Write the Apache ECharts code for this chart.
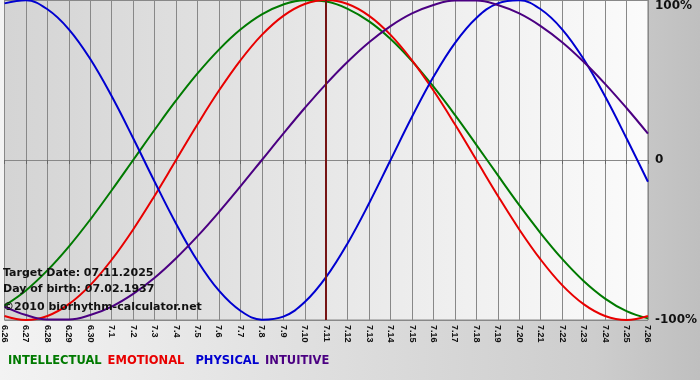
<!DOCTYPE html>
<html>
<head>
<meta charset="utf-8">
<script src="https://cdn.jsdelivr.net/npm/echarts@6/dist/echarts.min.js"></script>
<style>html,body{margin:0;padding:0;background:#fff}#c{width:700px;height:380px}</style>
</head>
<body>
<div id="c"></div>
<script>
const days = ['6.26','6.27','6.28','6.29','6.30','7.1','7.2','7.3','7.4','7.5','7.6','7.7','7.8','7.9','7.10','7.11','7.12','7.13','7.14','7.15','7.16','7.17','7.18','7.19','7.20','7.21','7.22','7.23','7.24','7.25','7.26'];
const intellectual = [-0.910,-0.815,-0.690,-0.541,-0.372,-0.189,0,0.189,0.372,0.541,0.690,0.815,0.910,0.972,0.999,0.990,0.945,0.866,0.756,0.618,0.458,0.282,0.095,-0.095,-0.282,-0.458,-0.618,-0.756,-0.866,-0.945,-0.990];
const emotional = [-0.975,-1,-0.975,-0.901,-0.782,-0.623,-0.434,-0.223,0,0.223,0.434,0.623,0.782,0.901,0.975,1,0.975,0.901,0.782,0.623,0.434,0.223,0,-0.223,-0.434,-0.623,-0.782,-0.901,-0.975,-1,-0.975];
const physical = [0.979,0.998,0.942,0.817,0.631,0.398,0.136,-0.136,-0.398,-0.631,-0.817,-0.942,-0.998,-0.979,-0.888,-0.731,-0.520,-0.270,0,0.270,0.520,0.731,0.888,0.979,0.998,0.942,0.817,0.631,0.398,0.136,-0.136];
const intuitive = [-0.916,-0.969,-0.997,-0.997,-0.969,-0.916,-0.837,-0.736,-0.614,-0.476,-0.325,-0.165,0,0.165,0.325,0.476,0.614,0.736,0.837,0.916,0.969,0.997,0.997,0.969,0.916,0.837,0.736,0.614,0.476,0.325,0.165];
const yTicks = {'1':'100%','0':'0','-1':'-100%'};
const targetDay = '7.11';
const infoLines = ['Target Date: 07.11.2025','Day of birth: 07.02.1937','\u00a92010 biorhythm-calculator.net'];

const colors = {INTELLECTUAL:'#007a00', EMOTIONAL:'#e80000', PHYSICAL:'#0000d0', INTUITIVE:'#4b0082'};

const chart = echarts.init(document.getElementById('c'), null, {renderer:'canvas'});
function mk(name, data, extra){
  return Object.assign({
    name, type:'line', data, smooth:0.4, symbol:'none', clip:false,
    lineStyle:{color:colors[name], width:2}, itemStyle:{color:colors[name]}
  }, extra||{});
}
chart.setOption({
  animation:false,
  backgroundColor:{type:'linear',x:0,y:0,x2:1,y2:0,colorStops:[{offset:0,color:'#f3f3f3'},{offset:0.85,color:'#cdcdcd'},{offset:1,color:'#bfbfbf'}]},
  grid:{left:0,right:50,top:0,bottom:60,show:true,borderColor:'#888',borderWidth:1,
    backgroundColor:{type:'linear',x:0,y:0,x2:1,y2:0,colorStops:[{offset:0,color:'#d4d4d4'},{offset:1,color:'#fbfbfb'}]}},
  legend:{left:-2,top:349,icon:'none',itemWidth:0,itemGap:1,
    textStyle:{fontFamily:'DejaVu Sans',fontWeight:'bold',fontSize:11.5},
    data:Object.keys(colors).map(n=>({name:n,textStyle:{color:colors[n],padding:n==='PHYSICAL'?[0,0,0,5]:0}}))},
  xAxis:{type:'category',data:days,boundaryGap:false,
    axisLine:{lineStyle:{color:'#888'}},
    axisTick:{show:true,length:4,interval:0,lineStyle:{color:'#666'}},
    axisLabel:{interval:0,rotate:-90,margin:5,fontFamily:'Liberation Sans',fontWeight:'bold',fontSize:9,color:'#111'},
    splitLine:{show:true,interval:0,lineStyle:{color:'#888',width:1}}},
  yAxis:{type:'value',position:'right',min:-1,max:1,interval:1,
    axisLine:{show:false},axisTick:{show:false},
    splitLine:{show:true,lineStyle:{color:'#888',width:1}},
    axisLabel:{margin:7,fontFamily:'DejaVu Sans',fontWeight:'bold',fontSize:12,color:'#111',
      verticalAlignMaxLabel:'top',
      formatter:v=>yTicks[String(v)]}},
  graphic:infoLines.map((t,i)=>({type:'text',left:3,top:[268,284,302][i],z:100,
    style:{text:t,font:'bold 11px "DejaVu Sans"',fill:'#111'}})),
  series:[
    mk('INTELLECTUAL',intellectual,{markLine:{silent:true,symbol:'none',label:{show:false},
      lineStyle:{color:'#761414',width:2,type:'solid'},data:[{xAxis:targetDay}]}}),
    mk('EMOTIONAL',emotional),
    mk('PHYSICAL',physical),
    mk('INTUITIVE',intuitive)
  ]
});
</script>
</body>
</html>
